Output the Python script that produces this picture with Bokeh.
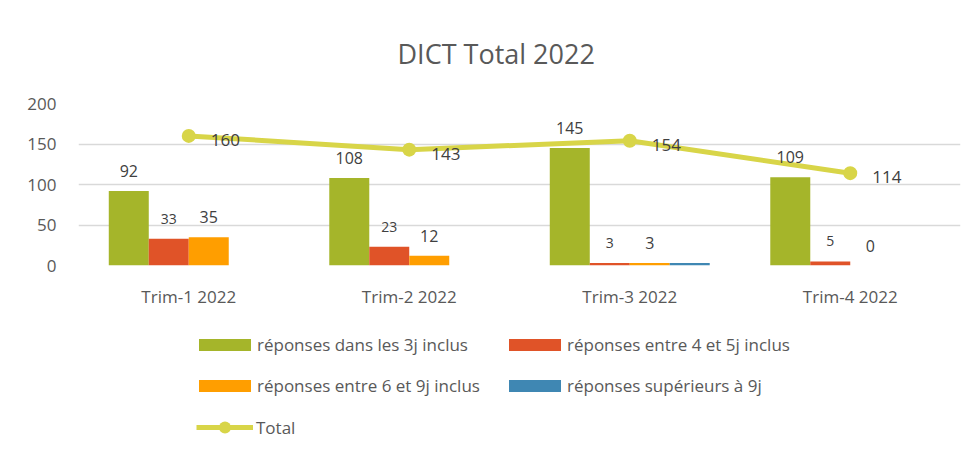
from bokeh.plotting import figure
from bokeh.layouts import column
from bokeh.models import (ColumnDataSource, FactorRange, Range1d, FixedTicker,
                          LabelSet, Legend, LegendItem)
from bokeh.transform import dodge
from bokeh.core.properties import value
from bokeh.embed import file_html
from bokeh.resources import INLINE

# ---- data ----
categories = ["Trim-1 2022", "Trim-2 2022", "Trim-3 2022", "Trim-4 2022"]
rep_3j = [92, 108, 145, 109]
rep_4_5j = [33, 23, 3, 5]
rep_6_9j = [35, 12, 3, 0]
rep_sup_9j = [0, 0, 3, 0]
total = [160, 143, 154, 114]
series_names = ["réponses dans les 3j inclus", "réponses entre 4 et 5j inclus",
                "réponses entre 6 et 9j inclus", "réponses supérieurs à 9j"]
total_name = "Total"
y_ticks = [0, 50, 100, 150, 200]
title_text = "DICT Total 2022"

colors = ["#A5B52A", "#E05328", "#FF9E00", "#3F87B3"]
line_color = "#D8D548"
FONT = "Open Sans"
TXT = "#595959"
LBL = "#404040"
NAN = float("nan")

src = ColumnDataSource(dict(cat=categories, s0=rep_3j, s1=rep_4_5j,
                            s2=rep_6_9j, s3=rep_sup_9j, total=total))

p = figure(width=969, height=310, x_range=FactorRange(*categories),
           y_range=Range1d(0, 200), output_backend="svg", toolbar_location=None,
           min_border_left=78, min_border_right=9, min_border_top=103,
           min_border_bottom=45)
p.outline_line_color = None
p.background_fill_color = "white"
p.border_fill_color = "white"

# title
p.title.text = title_text
p.title.align = "left"
p.title.offset = 319
p.title.standoff = 64
p.title.text_font = FONT
p.title.text_font_size = "27px"
p.title.text_font_style = "normal"
p.title.text_color = TXT

bw = 0.1814
offsets = [-0.272, -0.0907, 0.0907, 0.272]
for i, key in enumerate(["s0", "s1", "s2", "s3"]):
    p.vbar(x=dodge("cat", offsets[i], range=p.x_range), top=key, width=bw,
           source=src, fill_color=colors[i], line_color=None)

p.line(x="cat", y="total", source=src, line_color=line_color, line_width=5)
p.scatter(x="cat", y="total", source=src, size=14, fill_color=line_color,
          line_color=None)

# bar labels (not for last series)
label_sizes = ["16px", "14px", "16px"]
for i, key in enumerate(["s0", "s1", "s2"]):
    ls = LabelSet(x=dodge("cat", offsets[i], range=p.x_range), y=key, text=key,
                  source=src, y_offset=20, text_align="center",
                  text_baseline="middle", text_font=value(FONT),
                  text_font_size=label_sizes[i], text_color=LBL)
    p.add_layout(ls)

tl = LabelSet(x="cat", y="total", text="total", source=src, x_offset=22,
              y_offset=-4, text_align="left", text_baseline="middle",
              text_font=value(FONT), text_font_size="17px", text_color=LBL)
p.add_layout(tl)

# axes
p.yaxis.ticker = FixedTicker(ticks=y_ticks)
for ax in (p.xaxis[0], p.yaxis[0]):
    ax.axis_line_color = None
    ax.major_tick_line_color = None
    ax.minor_tick_line_color = None
    ax.major_tick_out = 0
    ax.major_tick_in = 0
    ax.minor_tick_out = 0
    ax.minor_tick_in = 0
    ax.major_label_text_font = FONT
    ax.major_label_text_color = TXT
    ax.major_label_text_font_size = "17px"
p.yaxis.major_label_standoff = 22
p.xaxis.major_label_standoff = 19
p.xgrid.grid_line_color = None
p.ygrid.grid_line_color = "#d9d9d9"
p.ygrid.grid_line_width = 1.5

# ---- legend in its own strip below the chart ----
leg = figure(width=969, height=132, x_range=Range1d(0, 1), y_range=Range1d(0, 1),
             x_axis_type=None, y_axis_type=None, output_backend="svg",
             toolbar_location=None, min_border=0)
leg.outline_line_color = None
leg.grid.visible = False
leg_r = []
for i in range(4):
    # placeholder renderers with no drawable point: only used by the legend
    leg_r.append(leg.vbar(x=[NAN], top=[NAN], width=0.1, fill_color=colors[i],
                          line_color=None))
lr = leg.line(x=[NAN], y=[NAN], line_color=line_color, line_width=5)
sr = leg.scatter(x=[NAN], y=[NAN], size=14, fill_color=line_color, line_color=None)

common = dict(padding=0, margin=0, background_fill_alpha=0, border_line_color=None,
              label_text_font=FONT, label_text_font_size="17px", label_text_color=TXT)

items = [LegendItem(label=series_names[i], renderers=[leg_r[i]]) for i in range(4)]
legend = Legend(items=items, location=(114, 45), ncols=2, orientation="horizontal",
                glyph_width=65, glyph_height=15, label_standoff=0, label_height=24,
                label_width=228, spacing=17, **common)
leg.add_layout(legend, "center")

legend2 = Legend(items=[LegendItem(label=total_name, renderers=[lr, sr])],
                 location=(118, 0), glyph_width=57, glyph_height=30,
                 label_standoff=3, label_height=30, **common)
leg.add_layout(legend2, "center")

layout = column(p, leg, spacing=0)
open("out.html", "w").write(file_html(layout, INLINE))
